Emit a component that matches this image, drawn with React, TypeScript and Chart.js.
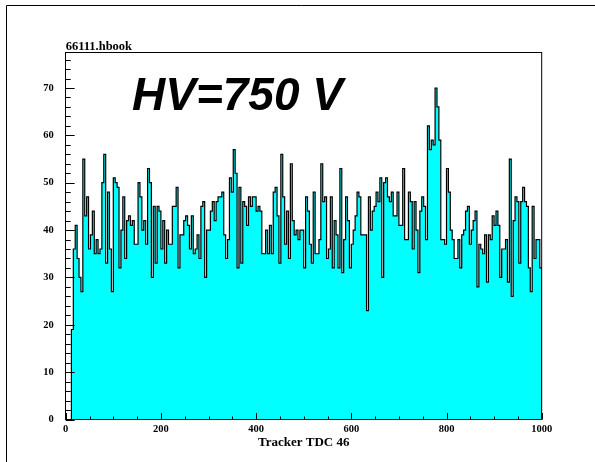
import { useEffect, useRef } from "react";
import { Chart, registerables } from "chart.js";

Chart.register(...registerables);

const TITLE = "66111.hbook";
const X_TITLE = "Tracker TDC 46";
const ANNOTATION = "HV=750 V";

const X_MIN = 0;
const X_MAX = 1000;
const BIN_WIDTH = 4;
const Y_MIN = 0;
const Y_MAX = 77.6;

const X_TICKS = [0, 200, 400, 600, 800, 1000];
const Y_TICKS = [0, 10, 20, 30, 40, 50, 60, 70];
const X_MINOR_STEP = 50;
const Y_MINOR_STEP = 2;

// entries per 4-unit bin, 0..1000 (250 bins)
const COUNTS_A = [0, 0, 0, 19, 36, 41, 34, 30, 27, 55, 43, 47, 36, 39, 44, 35, 38, 35, 36, 50, 56, 33, 48, 36, 27, 51, 50, 49, 32, 40, 47, 34, 42, 43, 41, 42, 37, 37, 50, 47, 40, 42];
const COUNTS_B = [37, 53, 50, 30, 45, 33, 45, 44, 36, 42, 33, 40, 37, 37, 45, 45, 49, 32, 39, 39, 42, 43, 41, 36, 43, 35, 36, 39, 34, 45, 46, 30, 40, 40, 44, 46, 42, 46, 47, 47, 48];
const COUNTS_C = [39, 34, 38, 51, 48, 57, 52, 32, 49, 33, 46, 45, 41, 47, 45, 47, 47, 44, 45, 44, 35, 35, 40, 35, 41, 35, 48, 49, 43, 33, 56, 47, 37, 44, 34, 54, 42, 39, 40, 38, 40, 40];
const COUNTS_D = [32, 47, 44, 37, 33, 48, 35, 35, 38, 54, 46, 47, 34, 36, 47, 32, 42, 39, 32, 53, 31, 38, 47, 42, 32, 37, 40, 43, 48, 47, 39, 39, 39, 23, 47, 40, 44, 45, 48, 46, 51, 30, 50];
const COUNTS_E = [51, 47, 46, 48, 43, 43, 48, 41, 41, 53, 38, 38, 48, 46, 36, 46, 40, 31, 44, 47, 45, 38, 62, 57, 59, 58, 70, 66, 59, 38, 38, 37, 53, 48, 40, 38, 34, 34, 38];
const COUNTS_F = [32, 39, 40, 44, 45, 37, 40, 42, 44, 28, 37, 36, 35, 39, 29, 39, 38, 43, 41, 44, 41, 30, 36, 36, 38, 29, 55, 26, 42, 47, 46, 33, 46, 49, 46, 45, 32, 27, 45, 34, 38, 38, 32];

const COUNTS = [...COUNTS_A, ...COUNTS_B, ...COUNTS_C, ...COUNTS_D, ...COUNTS_E, ...COUNTS_F];

const FILL_COLOR = "#00ffff";
const LINE_COLOR = "#000000";
const SERIF = "'Liberation Serif', 'Times New Roman', serif";
const SANS = "'Liberation Sans', Arial, sans-serif";

const decorPlugin = {
  id: "hbookDecor",
  afterDraw(chart: any) {
    const { ctx, chartArea } = chart;
    const xs = chart.scales.x;
    const ys = chart.scales.y;
    ctx.save();

    // outer page frame
    ctx.strokeStyle = "#000";
    ctx.lineWidth = 1;
    ctx.beginPath();
    ctx.moveTo(6.5, 470);
    ctx.lineTo(6.5, 5.5);
    ctx.lineTo(600, 5.5);
    ctx.stroke();

    // top and right frame of plot
    ctx.beginPath();
    ctx.moveTo(chartArea.left, chartArea.top + 0.5);
    ctx.lineTo(chartArea.right, chartArea.top + 0.5);
    ctx.moveTo(chartArea.right, chartArea.top);
    ctx.lineTo(chartArea.right, chartArea.bottom);
    ctx.stroke();

    // inward tick marks on y axis
    ctx.beginPath();
    for (let v = Y_MIN; v <= Y_MAX; v += Y_MINOR_STEP) {
      const py = Math.round(ys.getPixelForValue(v)) + 0.5;
      const len = Y_TICKS.includes(v) ? 9 : 5;
      ctx.moveTo(chartArea.left, py);
      ctx.lineTo(chartArea.left + len, py);
    }
    // inward tick marks on x axis
    for (let v = X_MIN; v <= X_MAX; v += X_MINOR_STEP) {
      const px = Math.round(xs.getPixelForValue(v)) + 0.5;
      const len = X_TICKS.includes(v) ? 6.5 : 3;
      ctx.moveTo(px, chartArea.bottom);
      ctx.lineTo(px, chartArea.bottom - len);
    }
    ctx.stroke();

    // histogram id
    ctx.fillStyle = "#000";
    ctx.font = `bold 12.5px ${SERIF}`;
    ctx.textAlign = "left";
    ctx.textBaseline = "alphabetic";
    ctx.fillText(TITLE, chartArea.left, 49.5);

    // annotation
    ctx.font = `italic bold 46px ${SANS}`;
    ctx.fillText(ANNOTATION, 132, 110);

    ctx.restore();
  },
};

export default function App() {
  const canvasRef = useRef<HTMLCanvasElement | null>(null);

  useEffect(() => {
    const canvas = canvasRef.current;
    if (!canvas) return;
    const points = COUNTS.map((c, i) => ({ x: X_MIN + i * BIN_WIDTH, y: c }));
    points.push({ x: X_MAX, y: COUNTS[COUNTS.length - 1] });
    points.push({ x: X_MAX, y: 0 });

    const tickFont = { family: SERIF, weight: "bold" as const, size: 10.5 };

    const chart = new Chart(canvas, {
      type: "line",
      data: {
        datasets: [
          {
            data: points,
            stepped: true,
            borderColor: LINE_COLOR,
            borderWidth: 1.2,
            backgroundColor: FILL_COLOR,
            fill: "origin",
            pointRadius: 0,
            pointHoverRadius: 0,
            tension: 0,
          },
        ],
      },
      options: {
        animation: false,
        responsive: false,
        devicePixelRatio: 1,
        events: [],
        layout: { padding: { left: 0, top: 52, right: 53.3, bottom: 0 } },
        plugins: {
          legend: { display: false },
          tooltip: { enabled: false },
          title: { display: false },
        },
        scales: {
          x: {
            type: "linear",
            min: X_MIN,
            max: X_MAX,
            grid: { display: false, drawTicks: false },
            border: { display: true, color: "#000", width: 1 },
            afterBuildTicks: (s: any) => {
              s.ticks = X_TICKS.map((v) => ({ value: v }));
            },
            afterFit: (s: any) => {
              s.height = 42.5;
            },
            ticks: {
              color: "#000",
              font: tickFont,
              padding: 3.5,
              maxRotation: 0,
              autoSkip: false,
              includeBounds: false,
              callback: (v: any) => String(v),
            },
            title: {
              display: true,
              text: X_TITLE,
              color: "#000",
              font: { family: SERIF, weight: "bold", size: 13 },
              padding: { top: 0, bottom: 11.5 },
            },
          },
          y: {
            type: "linear",
            min: Y_MIN,
            max: Y_MAX,
            grid: { display: false, drawTicks: false },
            border: { display: true, color: "#000", width: 1 },
            afterBuildTicks: (s: any) => {
              s.ticks = Y_TICKS.map((v) => ({ value: v }));
            },
            afterFit: (s: any) => {
              s.width = 65.7;
            },
            ticks: {
              color: "#000",
              font: tickFont,
              padding: 12,
              autoSkip: false,
              includeBounds: false,
              callback: (v: any) => String(v),
            },
          },
        },
      },
      plugins: [decorPlugin],
    });

    return () => {
      chart.destroy();
    };
  }, []);

  return (
    <div style={{ position: "fixed", left: 0, top: 0, width: 595, height: 462, background: "#fff" }}>
      <canvas ref={canvasRef} width={595} height={462} style={{ width: 595, height: 462, display: "block" }} />
    </div>
  );
}
